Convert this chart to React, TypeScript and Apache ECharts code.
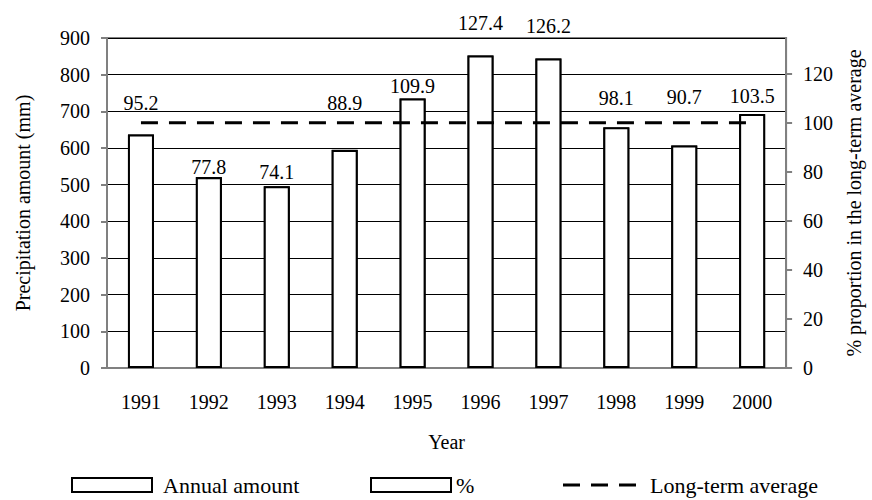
import React, { useEffect, useRef } from 'react';
import * as echarts from 'echarts';

// ---- data ----
const YEARS = ['1991', '1992', '1993', '1994', '1995', '1996', '1997', '1998', '1999', '2000'];
const ANNUAL_MM = [637, 521, 496, 595, 735, 852, 844, 656, 607, 692];
const PERCENT_OF_AVERAGE = [95.2, 77.8, 74.1, 88.9, 109.9, 127.4, 126.2, 98.1, 90.7, 103.5];
const LONG_TERM_PCT = [100, 100, 100, 100, 100, 100, 100, 100, 100, 100];
const LONG_TERM_MM = 669;
const LEFT_MAX = 900;
const LEFT_INTERVAL = 100;
const RIGHT_INTERVAL = 20;

// vertical nudges (px) of the % labels, as placed by hand in the reference
const LABEL_LIFT: Record<string, number> = {
  '1991': -19,
  '1992': 2,
  '1993': -2,
  '1994': -35,
  '1996': -20,
  '1997': -20,
  '1998': -17,
  '1999': -37,
  '2000': -6,
};

const FONT = "'Liberation Serif', 'Times New Roman', serif";
const GRAY = '#808080';
const DASH_ICON = 'path://M0,0h17v3h-17z M28,0h17v3h-17z M56,0h17v3h-17z';

export default function App() {
  const ref = useRef<HTMLDivElement>(null);

  useEffect(() => {
    if (!ref.current) return;
    const chart = echarts.init(ref.current, null, { renderer: 'svg' });
    const barStyle = { color: '#ffffff', borderColor: '#000000', borderWidth: 2 };
    const text = { fontFamily: FONT, color: '#000', fontSize: 20 };
    const legendText = { fontFamily: FONT, color: '#000', fontSize: 22, padding: [0, 0, 0, 6] };
    const legendTop = 474;

    chart.setOption({
      animation: false,
      backgroundColor: '#ffffff',
      grid: {
        left: 107,
        right: 72,
        top: 38,
        bottom: 132,
        show: true,
        borderColor: GRAY,
        borderWidth: 2,
      },
      legend: [
        {
          data: ['Annual amount'],
          left: 71,
          top: legendTop,
          padding: 0,
          icon: 'rect',
          itemWidth: 80,
          itemHeight: 14,
          selectedMode: false,
          textStyle: legendText,
        },
        {
          data: ['%'],
          left: 370,
          top: legendTop,
          padding: 0,
          icon: 'rect',
          itemWidth: 80,
          itemHeight: 14,
          selectedMode: false,
          textStyle: { ...legendText, padding: [0, 0, 0, 0] },
        },
        {
          data: ['Long-term average'],
          left: 563,
          top: legendTop,
          padding: 0,
          icon: DASH_ICON,
          itemWidth: 73,
          itemHeight: 3,
          selectedMode: false,
          itemStyle: { color: '#000', borderWidth: 0 },
          textStyle: { ...legendText, padding: [0, 0, 0, 9] },
        },
      ],
      xAxis: {
        type: 'category',
        data: YEARS,
        axisLine: { lineStyle: { color: GRAY, width: 2 } },
        axisTick: { length: 6, lineStyle: { color: GRAY, width: 2 } },
        axisLabel: { ...text, margin: 24 },
        name: 'Year',
        nameLocation: 'middle',
        nameGap: 64,
        nameTextStyle: text,
      },
      yAxis: [
        {
          type: 'value',
          min: 0,
          max: LEFT_MAX,
          interval: LEFT_INTERVAL,
          axisLine: { show: true, lineStyle: { color: GRAY, width: 2 } },
          axisTick: { show: true, length: 6, lineStyle: { color: GRAY, width: 2 } },
          axisLabel: { ...text, margin: 17 },
          splitLine: { show: true, lineStyle: { color: '#000', width: 1 } },
          name: 'Precipitation amount (mm)',
          nameLocation: 'middle',
          nameGap: 74,
          nameRotate: 90,
          nameTextStyle: text,
        },
        {
          type: 'value',
          position: 'right',
          min: 0,
          max: (LEFT_MAX / LONG_TERM_MM) * 100,
          interval: RIGHT_INTERVAL,
          axisLine: { show: true, lineStyle: { color: GRAY, width: 2 } },
          axisTick: { show: true, length: 6, lineStyle: { color: GRAY, width: 2 } },
          axisLabel: { ...text, margin: 17, showMaxLabel: false },
          splitLine: { show: false },
          name: '% proportion in the long-term average',
          nameLocation: 'middle',
          nameGap: 50,
          nameRotate: 90,
          nameTextStyle: text,
        },
      ],
      series: [
        {
          name: 'Annual amount',
          type: 'bar',
          yAxisIndex: 0,
          data: ANNUAL_MM,
          barWidth: 26,
          barGap: '-100%',
          itemStyle: barStyle,
        },
        {
          name: '%',
          type: 'bar',
          yAxisIndex: 1,
          barWidth: 26,
          barGap: '-100%',
          itemStyle: barStyle,
          data: PERCENT_OF_AVERAGE.map((v, i) => ({
            value: v,
            label: { offset: [0, LABEL_LIFT[YEARS[i]] ?? 0] },
          })),
          label: {
            show: true,
            position: 'top',
            distance: 2,
            ...text,
            formatter: (p: any) => Number(p.value).toFixed(1),
          },
        },
        {
          name: 'Long-term average',
          type: 'line',
          yAxisIndex: 1,
          data: LONG_TERM_PCT,
          symbol: 'none',
          z: 5,
          lineStyle: { color: '#000', width: 3, type: [17, 11] },
          itemStyle: { color: '#000' },
        },
      ],
    });

    return () => chart.dispose();
  }, []);

  return (
    <div
      ref={ref}
      style={{ position: 'fixed', left: 0, top: 0, width: 872, height: 500 }}
    />
  );
}
